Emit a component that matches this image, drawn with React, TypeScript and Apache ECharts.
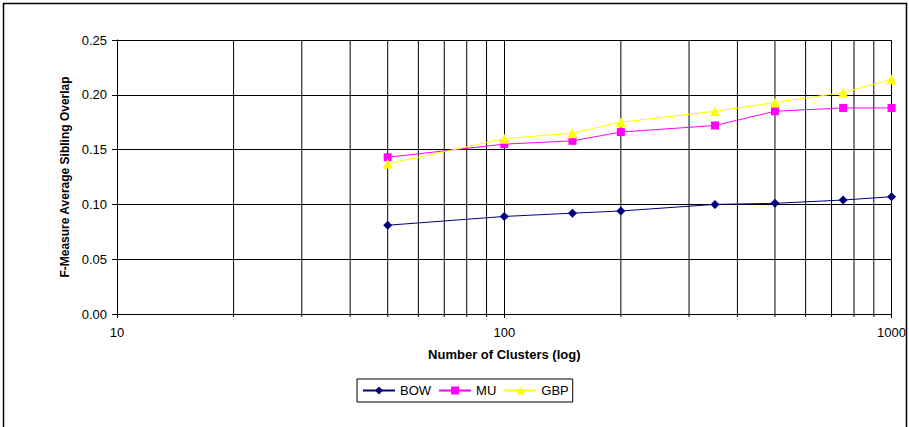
import React, { useEffect, useRef } from "react";
import * as echarts from "echarts";

const clusters = [50, 100, 150, 200, 350, 500, 750, 1000];
const bowValues = [0.081, 0.089, 0.092, 0.094, 0.1, 0.101, 0.104, 0.107];
const muValues = [0.143, 0.155, 0.158, 0.166, 0.172, 0.185, 0.188, 0.188];
const gbpValues = [0.137, 0.16, 0.165, 0.175, 0.185, 0.193, 0.202, 0.214];
const minorGridValues = [20, 30, 40, 50, 60, 70, 80, 90, 200, 300, 400, 500, 600, 700, 800, 900];
const yTicks = [0, 0.05, 0.1, 0.15, 0.2, 0.25];

const FONT = "'Liberation Sans', Arial, sans-serif";

export default function App() {
  const ref = useRef<HTMLDivElement>(null);
  useEffect(() => {
    if (!ref.current) return;
    const chart = echarts.init(ref.current, undefined, { renderer: "svg" });
    const pair = (vals: number[]) => clusters.map((c, i) => [c, vals[i]]);
    chart.setOption({
      animation: false,
      backgroundColor: "#fff",
      textStyle: { fontFamily: FONT },
      graphic: [
        {
          type: "rect",
          shape: { x: 3.5, y: 3.5, width: 903, height: 440 },
          style: { fill: "none", stroke: "#000", lineWidth: 1.5 },
          silent: true,
        },
      ],
      grid: { left: 117, right: 17, top: 40, bottom: 113, containLabel: false },
      legend: {
        left: 357,
        top: 379,
        padding: [5, 4, 5, 5],
        borderColor: "#000",
        borderWidth: 1,
        itemWidth: 32,
        itemHeight: 10,
        itemGap: 7,
        textStyle: { fontSize: 13, color: "#000", fontFamily: FONT },
        data: ["BOW", "MU", "GBP"],
      },
      xAxis: {
        type: "log",
        logBase: 10,
        min: 10,
        max: 1000,
        name: "Number of Clusters (log)",
        nameLocation: "middle",
        nameGap: 34,
        nameTextStyle: { fontSize: 13, fontWeight: "bold", color: "#000", fontFamily: FONT },
        axisLine: { show: true, lineStyle: { color: "#000", width: 1 } },
        axisTick: { show: true, length: 4, lineStyle: { color: "#000" } },
        axisLabel: {
          fontSize: 13,
          color: "#000",
          margin: 12,
          fontFamily: FONT,
          formatter: (v: number) => String(Math.round(v)),
        },
        splitLine: { show: true, lineStyle: { color: "#000", width: 1 } },
      },
      yAxis: {
        type: "value",
        min: 0,
        max: 0.25,
        interval: 0.05,
        name: "F-Measure Average Sibling Overlap",
        nameLocation: "middle",
        nameGap: 46,
        nameTextStyle: { fontSize: 12, fontWeight: "bold", color: "#000", fontFamily: FONT },
        axisLine: { show: true, lineStyle: { color: "#000", width: 1 } },
        axisTick: { show: true, length: 5, lineStyle: { color: "#000" } },
        axisLabel: {
          fontSize: 13,
          color: "#000",
          margin: 10,
          fontFamily: FONT,
          formatter: (v: number) => (yTicks.includes(Math.round(v * 100) / 100) ? v.toFixed(2) : ""),
        },
        splitLine: { show: true, lineStyle: { color: "#000", width: 1 } },
      },
      series: [
        {
          type: "custom",
          silent: true,
          clip: false,
          z: 1,
          data: minorGridValues.map((v) => [v, 0]),
          renderItem: (params: any, api: any) => {
            const x = api.value(0);
            const top = api.coord([x, 0.25]);
            const bot = api.coord([x, 0]);
            return {
              type: "line",
              shape: { x1: top[0], y1: top[1], x2: bot[0], y2: bot[1] + 3 },
              style: { stroke: "#000", lineWidth: 1 },
            };
          },
        },
        {
          name: "BOW",
          type: "line",
          z: 5,
          data: pair(bowValues),
          symbol: "diamond",
          symbolSize: 9,
          itemStyle: { color: "#000080" },
          lineStyle: { color: "#000080", width: 1 },
        },
        {
          name: "MU",
          type: "line",
          z: 5,
          data: pair(muValues),
          symbol: "rect",
          symbolSize: 8,
          itemStyle: { color: "#FF00FF" },
          lineStyle: { color: "#FF00FF", width: 1 },
        },
        {
          name: "GBP",
          type: "line",
          z: 6,
          data: pair(gbpValues),
          symbol: "triangle",
          symbolSize: 10,
          itemStyle: { color: "#FFFF00" },
          lineStyle: { color: "#FFFF00", width: 1 },
        },
      ],
    });
    return () => chart.dispose();
  }, []);
  return (
    <div
      ref={ref}
      style={{ position: "fixed", left: 0, top: 0, width: 909, height: 427 }}
    />
  );
}
